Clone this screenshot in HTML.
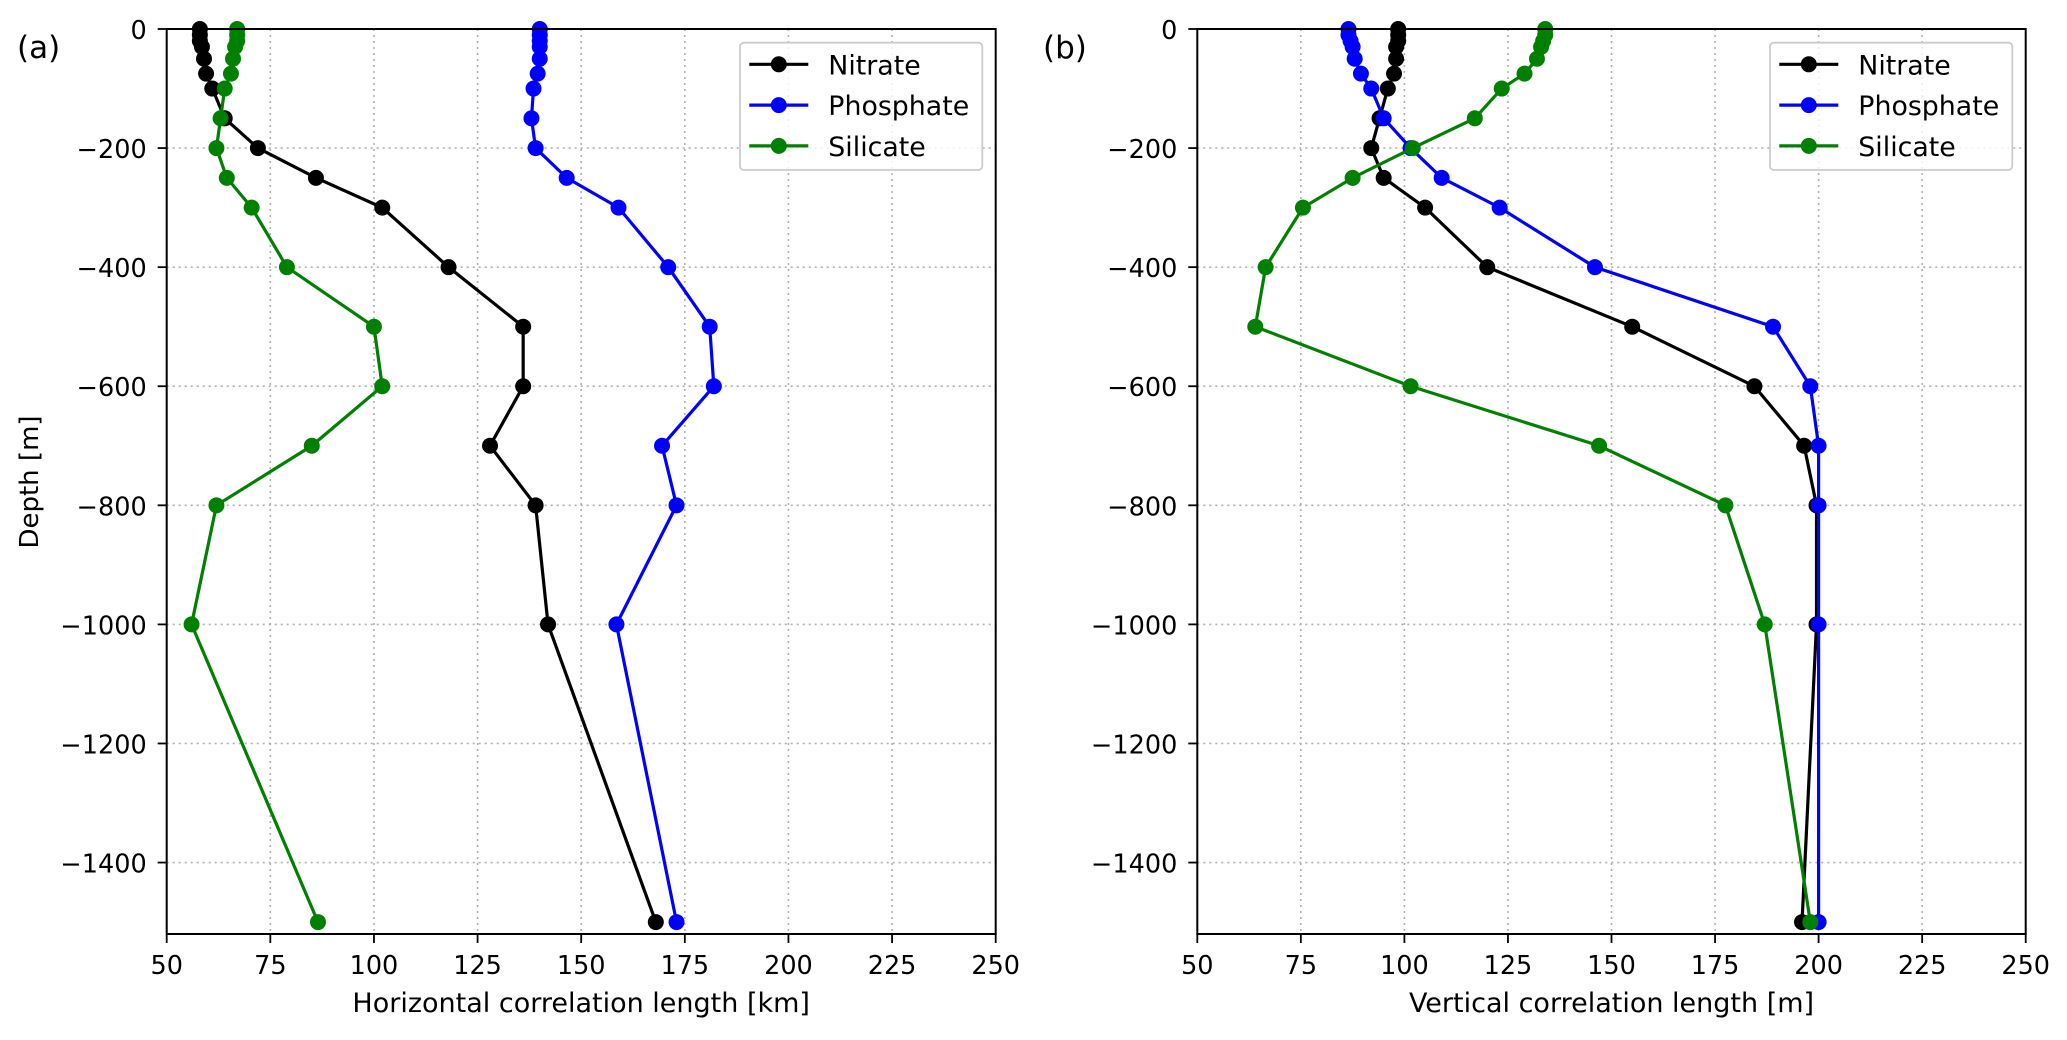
<!DOCTYPE html>
<html><head><meta charset="utf-8"><style>
body{margin:0;background:#fff}
svg text{font-family:"DejaVu Sans","Liberation Sans",sans-serif;fill:#000}
</style></head><body>
<svg id="fig" width="2067" height="1035" xmlns="http://www.w3.org/2000/svg"></svg>
<script>
const depths=[0,-10,-20,-30,-50,-75,-100,-150,-200,-250,-300,-400,-500,-600,-700,-800,-1000,-1500];
const hNitrate=[58,58,58,58.5,59,59.5,61,64,72,86,102,118,136,136,128,139,142,168];
const hPhosphate=[140,140,140,140,140,139.5,138.5,138,139,146.5,159,171,181,182,169.5,173,158.5,173];
const hSilicate=[67,67,67,66.5,66,65.5,64,63,62,64.5,70.5,79,100,102,85,62,56,86.5];
const vNitrate=[98.5,98.5,98.5,98,98,97.5,96,94,92,95,105,120,155,184.5,196.5,199.5,199.5,196];
const vPhosphate=[86.5,86.5,87,87.5,88,89.5,92,95,101.5,109,123,146,189,198,200,200,200,200];
const vSilicate=[134,134,133.5,133,132,129,123.5,117,102,87.5,75.5,66.5,64,101.5,147,177.5,187,198];
const xTicks=[50,75,100,125,150,175,200,225,250];
const yTicks=[0,-200,-400,-600,-800,-1000,-1200,-1400];
const seriesNames=["Nitrate","Phosphate","Silicate"];
const colors=["#000000","#0000ff","#008000"];

const NS="http://www.w3.org/2000/svg";
const svg=document.getElementById('fig');
function mk(tag,attrs,parent){const e=document.createElementNS(NS,tag);for(const k in attrs)e.setAttribute(k,attrs[k]);(parent||svg).appendChild(e);return e;}

function panel(x0,x1,label,labelX,xtitle,data,key,showY){
  const y0=29,y1=934,xmin=50,xmax=250,ymin=-1520,ymax=0;
  const sx=v=>x0+(v-xmin)/(xmax-xmin)*(x1-x0);
  const sy=v=>y0+(ymax-v)/(ymax-ymin)*(y1-y0);
  const g=mk('g',{});
  
  
  xTicks.forEach(t=>{
    const l=mk('line',{x1:sx(t),x2:sx(t),y1:y0,y2:y1,stroke:'#b0b0b0','stroke-width':1.6,'stroke-dasharray':'2,4'},g);
    
    
    mk('line',{x1:sx(t),x2:sx(t),y1:y1,y2:y1+9,stroke:'#000','stroke-width':1.8},g);
    const tx=mk('text',{x:sx(t),y:974,'font-size':25.5,'text-anchor':'middle'},g);
    tx.textContent=t;
    
    
  });
  yTicks.forEach(t=>{
    const l=mk('line',{x1:x0,x2:x1,y1:sy(t),y2:sy(t),stroke:'#b0b0b0','stroke-width':1.6,'stroke-dasharray':'2,4'},g);
    
    
    mk('line',{x1:x0-9,x2:x0,y1:sy(t),y2:sy(t),stroke:'#000','stroke-width':1.8},g);
    const tx=mk('text',{x:x0-20,y:sy(t)+10,'font-size':25.5,'text-anchor':'end'},g);
    tx.textContent=t===0?'0':'\u2212'+Math.abs(t);
    
    
  });
  data.forEach((vals,i)=>{
    const pts=vals.map((v,j)=>sx(v)+','+sy(depths[j])).join(' ');
    const pl=mk('polyline',{points:pts,fill:'none',stroke:colors[i],'stroke-width':3.2},g);
    
    
    vals.forEach((v,j)=>{
      const c=mk('circle',{cx:sx(v),cy:sy(depths[j]),r:8,fill:colors[i]},g);
      
      
    });
  });
  const fr=mk('rect',{x:x0,y:y0,width:x1-x0,height:y1-y0,fill:'none',stroke:'#000','stroke-width':2},g);
  
  
  const lx=x1-255.7,ly=42.7;
  const lg=mk('g',{},g);
  
  
  mk('rect',{x:lx,y:ly,width:242.3,height:127.3,rx:4,fill:'#fff','fill-opacity':0.8,stroke:'#ccc','stroke-width':1.8},lg);
  seriesNames.forEach((n,i)=>{
    const yy=64.3+i*40.8;
    const e=mk('g',{},lg);
    
    
    mk('line',{x1:lx+9.3,x2:lx+68.3,y1:yy,y2:yy,stroke:colors[i],'stroke-width':3.2},e);
    mk('circle',{cx:lx+38.8,cy:yy,r:8,fill:colors[i]},e);
    const t=mk('text',{x:lx+88.3,y:yy+10,'font-size':26.8},e);
    t.textContent=n;
  });
  const xt=mk('text',{x:(x0+x1)/2,y:1012,'font-size':27,'text-anchor':'middle'},g);
  xt.textContent=xtitle;
  
  
  if(showY){
    const yt=mk('text',{x:0,y:0,'font-size':26,'text-anchor':'middle',transform:'translate(38,482) rotate(-90)'},g);
    yt.textContent='Depth [m]';
    
    
  }
  const pl=mk('text',{x:labelX,y:58,'font-size':31},g);
  pl.textContent=label;
  
  
}
panel(166.7,995.7,'(a)',17,'Horizontal correlation length [km]',[hNitrate,hPhosphate,hSilicate],'horizontal',true);
panel(1197.3,2025.7,'(b)',1043,'Vertical correlation length [m]',[vNitrate,vPhosphate,vSilicate],'vertical',false);
</script>
</body></html>
